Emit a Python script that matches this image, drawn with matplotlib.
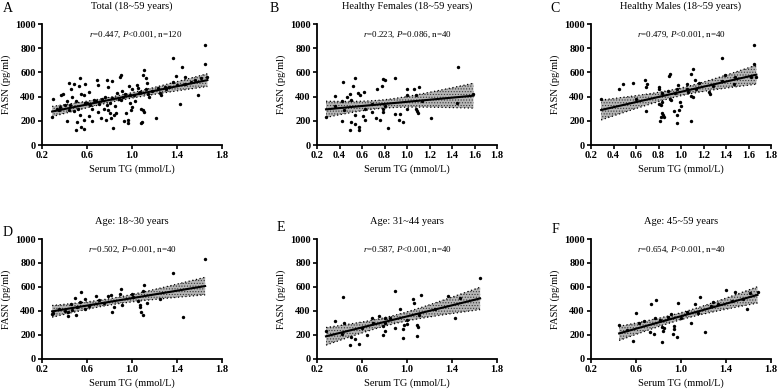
import numpy as np
import matplotlib
matplotlib.use("Agg")
import matplotlib.pyplot as plt

plt.rcParams['font.family'] = ['Liberation Serif', 'DejaVu Serif']
plt.rcParams['mathtext.fontset'] = 'custom'
plt.rcParams['mathtext.rm'] = 'Liberation Serif'
plt.rcParams['mathtext.it'] = 'Liberation Serif:italic'
plt.rcParams['hatch.linewidth'] = 0.5

# ---- data (Serum TG in mmol/L, FASN in pg/ml) ----
a_tg = [0.29, 0.30, 0.33, 0.36, 0.37, 0.40, 0.42, 0.42, 0.44, 0.44, 0.46, 0.47, 0.48, 0.50,
        0.50, 0.51, 0.53, 0.54, 0.54, 0.55, 0.55, 0.57, 0.57, 0.57, 0.58, 0.58,
        0.62, 0.62, 0.64, 0.64, 0.66, 0.69, 0.70, 0.70, 0.71, 0.72, 0.75, 0.77, 0.78, 0.79,
        0.79, 0.80, 0.80, 0.81, 0.82, 0.83, 0.84, 0.85, 0.86, 0.87, 0.89, 0.90, 0.90, 0.91,
        0.93, 0.94, 0.95, 0.96, 0.96, 0.97, 0.98, 0.99, 1.00, 1.00,
        1.02, 1.04, 1.05, 1.06, 1.08, 1.08, 1.09, 1.10, 1.10, 1.11, 1.11, 1.12, 1.12, 1.13,
        1.15, 1.21, 1.25, 1.26, 1.29, 1.36, 1.36, 1.39, 1.43, 1.44, 1.47, 1.47, 1.59, 1.61,
        1.65, 1.65, 1.67,
        0.35, 0.45, 0.52, 0.60, 0.68, 0.73, 0.76, 0.82, 0.88, 0.92, 1.03, 1.07, 1.14, 1.18,
        1.23, 1.30, 1.33, 1.40, 1.52, 1.56, 0.39, 0.48, 0.63, 0.78, 0.98]
a_fasn = [234, 378, 300, 316, 410, 330, 363, 201, 515, 290, 460, 395, 504, 124,
          365, 188, 490, 557, 244, 151, 420, 132, 207, 410, 504, 350,
          441, 240, 201, 295, 370, 537, 496, 270, 340, 221, 300, 207, 540, 480,
          290, 262, 350, 221, 530, 138, 250, 320, 262, 430, 564, 580, 370, 450,
          200, 420, 262, 180, 207, 488, 350, 290, 317, 460,
          410, 500, 470, 430, 179, 300, 190, 580, 290, 620, 270, 460, 556, 510,
          400, 225, 430, 415, 480, 715, 520, 570, 340, 645, 560, 505, 415, 550,
          828, 670, 560,
          290, 330, 300, 350, 360, 380, 400, 390, 380, 400, 360, 440, 420, 450,
          470, 460, 480, 500, 520, 540, 420, 280, 330, 330, 410]

b_tg = [0.28, 0.36, 0.36, 0.42, 0.42, 0.43, 0.44, 0.47, 0.49, 0.49, 0.50, 0.50, 0.52, 0.54,
        0.54, 0.54, 0.56, 0.57, 0.57, 0.58, 0.61, 0.62, 0.63, 0.63, 0.69, 0.69, 0.72, 0.73,
        0.76, 0.78, 0.79, 0.79, 0.79, 0.80, 0.80, 0.83, 0.89, 0.89, 0.93, 0.94, 0.96, 1.00,
        1.00, 1.00, 1.06, 1.08, 1.08, 1.09, 1.10, 1.11, 1.13, 1.21, 1.44, 1.45, 1.59]
b_fasn = [235, 407, 321, 363, 200, 521, 288, 396, 421, 122, 188, 371, 487, 557,
          247, 172, 429, 147, 125, 413, 241, 438, 296, 205, 338, 274, 222, 460,
          210, 487, 543, 299, 269, 537, 321, 139, 557, 260, 205, 255, 186, 460,
          416, 294, 463, 413, 299, 280, 266, 476, 360, 227, 346, 648, 421]

c_tg = [0.29, 0.45, 0.48, 0.57, 0.60, 0.68, 0.69, 0.69, 0.70, 0.80, 0.80, 0.80, 0.81, 0.82,
        0.82, 0.83, 0.83, 0.83, 0.84, 0.85, 0.88, 0.89, 0.90, 0.90, 0.91, 0.94, 0.95, 0.96,
        0.96, 0.96, 0.97, 0.98, 0.99, 1.00, 1.05, 1.05, 1.06, 1.09, 1.09, 1.09, 1.11, 1.11,
        1.12, 1.13, 1.16, 1.25, 1.26, 1.28, 1.36, 1.36, 1.39, 1.47, 1.48, 1.62, 1.65, 1.65,
        1.67]
c_fasn = [380, 460, 507, 510, 380, 537, 280, 476, 507, 476, 465, 341, 200, 332,
          233, 427, 357, 266, 252, 233, 449, 573, 587, 380, 371, 280, 432, 252,
          180, 460, 493, 288, 357, 321, 465, 501, 438, 197, 584, 407, 626, 399,
          537, 463, 515, 435, 418, 490, 715, 529, 576, 501, 562, 560, 828, 673,
          560]

d_tg = [0.29, 0.30, 0.35, 0.40, 0.43, 0.43, 0.46, 0.47, 0.49, 0.50, 0.51, 0.54, 0.55, 0.58,
        0.58, 0.62, 0.68, 0.71, 0.75, 0.79, 0.81, 0.82, 0.84, 0.89, 0.90, 0.91, 1.00, 1.01,
        1.05, 1.07, 1.07, 1.08, 1.10, 1.10, 1.11, 1.13, 1.25, 1.36, 1.45, 1.65]
d_fasn = [375, 381, 420, 400, 389, 360, 458, 408, 506, 365, 430, 478, 556, 497,
          414, 440, 525, 489, 470, 525, 531, 394, 436, 539, 581, 447, 539, 517,
          480, 436, 453, 394, 367, 567, 614, 467, 500, 717, 353, 831]

e_tg = [0.28, 0.36, 0.43, 0.44, 0.42, 0.49, 0.50, 0.54, 0.57, 0.64, 0.69, 0.75, 0.79, 0.80,
        0.79, 0.80, 0.80, 0.89, 0.89, 0.94, 0.96, 0.96, 0.97, 1.00, 1.00, 1.05, 1.06, 1.09,
        1.09, 1.10, 1.11, 1.12, 1.36, 1.43, 1.47, 1.65, 0.60, 0.70, 0.85, 1.25]
e_fasn = [236, 317, 519, 297, 206, 114, 186, 169, 122, 203, 339, 358, 275, 303,
          203, 233, 339, 569, 261, 417, 250, 178, 283, 328, 292, 500, 464, 283,
          194, 264, 367, 533, 525, 339, 506, 672, 260, 300, 340, 420]

f_tg = [0.45, 0.57, 0.60, 0.63, 0.67, 0.73, 0.78, 0.72, 0.76, 0.77, 0.81, 0.83, 0.83, 0.84,
        0.85, 0.88, 0.91, 0.94, 0.94, 0.93, 0.96, 0.97, 1.00, 1.05, 1.09, 1.12, 1.15, 1.17,
        1.21, 1.27, 1.28, 1.33, 1.40, 1.45, 1.48, 1.55, 1.59, 1.61, 1.68, 0.52]
f_fasn = [283, 150, 381, 300, 319, 458, 489, 222, 208, 339, 325, 269, 139, 233,
          260, 350, 372, 275, 247, 208, 186, 464, 340, 390, 303, 458, 380, 519,
          228, 442, 475, 460, 575, 480, 561, 500, 419, 550, 558, 240]

panel_letters = ['A', 'B', 'C', 'D', 'E', 'F']
panel_titles = ['Total (18~59 years)', 'Healthy Females (18~59 years)',
                'Healthy Males (18~59 years)', 'Age: 18~30 years',
                'Age: 31~44 years', 'Age: 45~59 years']
panel_stats = [r'$\mathit{r}$=0.447, $\mathit{P}$<0.001, n=120',
               r'$\mathit{r}$=0.223, $\mathit{P}$=0.086, n=40',
               r'$\mathit{r}$=0.479, $\mathit{P}$<0.001, n=40',
               r'$\mathit{r}$=0.502, $\mathit{P}$=0.001, n=40',
               r'$\mathit{r}$=0.587, $\mathit{P}$<0.001, n=40',
               r'$\mathit{r}$=0.654, $\mathit{P}$<0.001, n=40']
xticks_wide = [0.2, 0.6, 1.0, 1.4, 1.8]
xticks_fine = [0.2, 0.4, 0.6, 0.8, 1.0, 1.2, 1.4, 1.6, 1.8]
yticks = [0, 200, 400, 600, 800, 1000]

panels = [(a_tg, a_fasn), (b_tg, b_fasn), (c_tg, c_fasn),
          (d_tg, d_fasn), (e_tg, e_fasn), (f_tg, f_fasn)]
panel_xticks = [xticks_wide, xticks_fine, xticks_fine, xticks_wide, xticks_wide, xticks_wide]

W, H = 777, 392
fig = plt.figure(figsize=(W / 100, H / 100), dpi=100)

# axes boxes in pixels: left, top, right, bottom
lefts = [42, 317, 591]
rows = [(24, 145), (239, 359)]
letter_pos = [(3, 12), (270, 12), (550, 12), (3, 236), (277, 231), (552, 233)]


def fit_band(x, y):
    x = np.asarray(x, float)
    y = np.asarray(y, float)
    n = len(x)
    slope, icpt = np.polyfit(x, y, 1)
    xs = np.linspace(x.min(), x.max(), 100)
    ys = icpt + slope * xs
    resid = y - (icpt + slope * x)
    s = np.sqrt(np.sum(resid ** 2) / (n - 2))
    sxx = np.sum((x - x.mean()) ** 2)
    t = 1.98 if n > 60 else 2.02
    half = t * s * np.sqrt(1.0 / n + (xs - x.mean()) ** 2 / sxx)
    return xs, ys, ys - half, ys + half


for i, (xv, yv) in enumerate(panels):
    top, bot = rows[i // 3]
    left = lefts[i % 3]
    right = left + 180
    ax = fig.add_axes([left / W, 1 - bot / H, (right - left) / W, (bot - top) / H])

    xs, ys, lo, hi = fit_band(xv, yv)
    ax.fill_between(xs, lo, hi, facecolor='#b5b5b5', edgecolor='#3a3a3a',
                    hatch='......', linewidth=0, zorder=1)
    ax.plot(xs, lo, color='black', linestyle=(0, (1, 2)), linewidth=0.9, zorder=2)
    ax.plot(xs, hi, color='black', linestyle=(0, (1, 2)), linewidth=0.9, zorder=2)
    ax.scatter(xv, yv, s=6, color='black', zorder=3, linewidths=0)
    ax.plot(xs, ys, color='black', linewidth=1.5, zorder=4)

    ax.set_xlim(0.2, 1.8)
    ax.set_ylim(0, 1000)
    ax.set_xticks(panel_xticks[i])
    ax.set_xticklabels([f'{t:.1f}' for t in panel_xticks[i]])
    ax.set_yticks(yticks)
    for s in ['top', 'right']:
        ax.spines[s].set_visible(False)
    for s in ['left', 'bottom']:
        ax.spines[s].set_linewidth(1.3)
    ax.tick_params(direction='out', length=3, width=1.2, pad=1.5, labelsize=7.5)
    for lab in ax.get_xticklabels() + ax.get_yticklabels():
        lab.set_fontweight('bold')

    ax.set_xlabel('Serum TG (mmol/L)', fontsize=7.5, labelpad=3)
    ax.set_ylabel('FASN (pg/ml)', fontsize=7.5, labelpad=3)
    ax.set_title(panel_titles[i], fontsize=7.5, pad=11)
    ax.text(0.52 if i == 0 else 0.5, 0.895, panel_stats[i], transform=ax.transAxes,
            ha='center', va='baseline', fontsize=6.5)

    lx, ly = letter_pos[i]
    fig.text(lx / W, 1 - ly / H, panel_letters[i], fontsize=10, va='baseline', ha='left')

fig.savefig('out.png', dpi=100)
